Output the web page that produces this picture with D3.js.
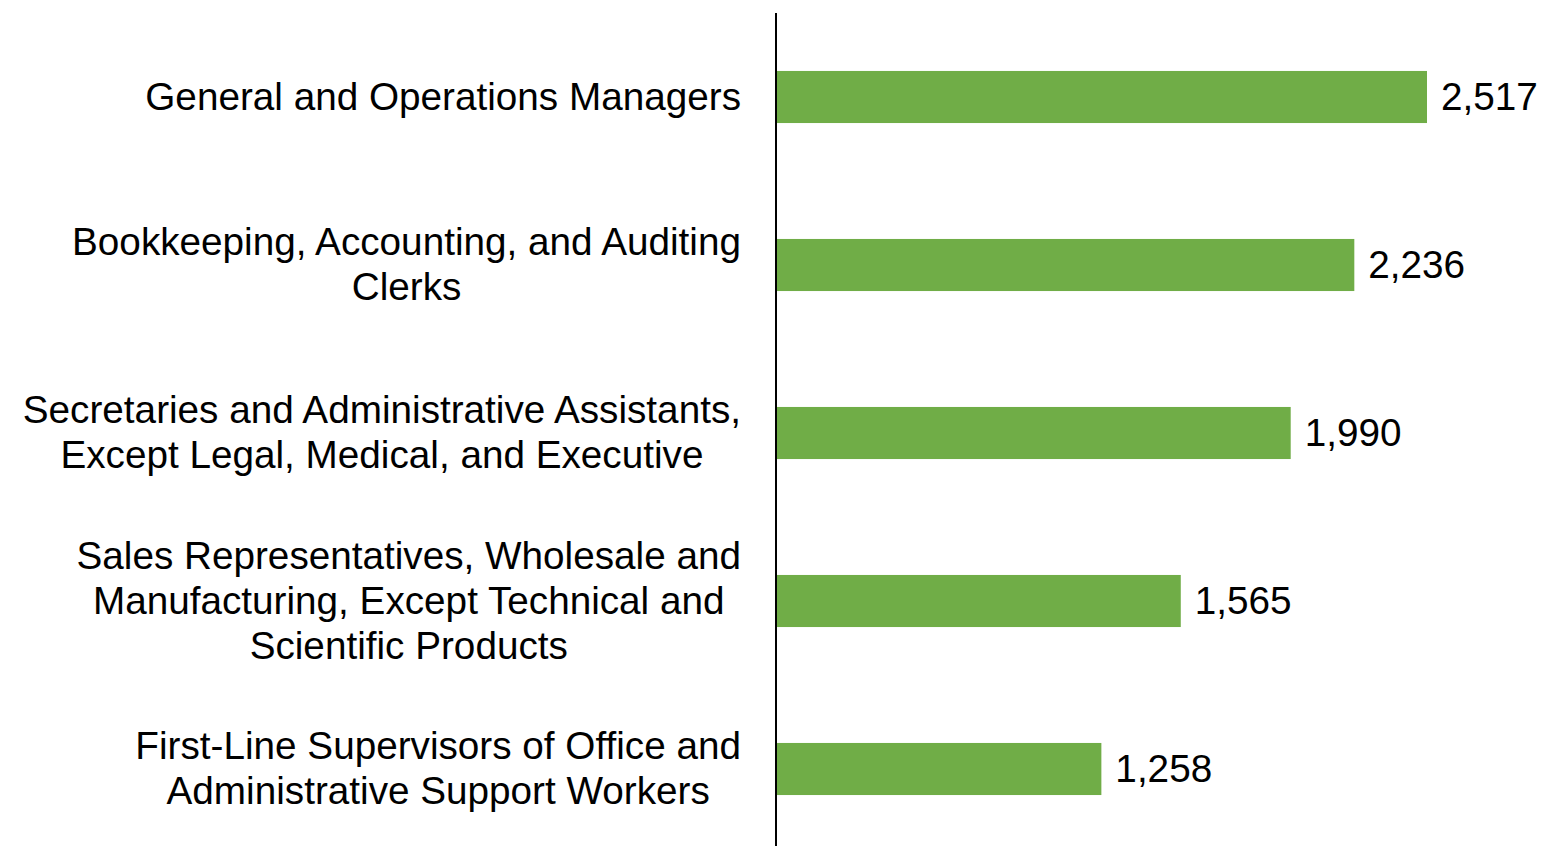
<!DOCTYPE html>
<meta charset="utf-8">
<title>top occupations bar chart</title>
<style>
body { margin: 0; background: #fff; }
text { font-family: "Liberation Sans", Arial, sans-serif; fill: #000; }
</style>
<svg width="1545" height="846"></svg>
<script src="https://d3js.org/d3.v7.min.js"></script>
<script>
// occupation labels, one array entry per line of the label
var categories = [
  ["General and Operations Managers"],
  ["Bookkeeping, Accounting, and Auditing", "Clerks"],
  ["Secretaries and Administrative Assistants,", "Except Legal, Medical, and Executive"],
  ["Sales Representatives, Wholesale and", "Manufacturing, Except Technical and", "Scientific Products"],
  ["First-Line Supervisors of Office and", "Administrative Support Workers"]
];
var values = [2517, 2236, 1990, 1565, 1258];

var svg = d3.select("svg"),
    axisX = 776,
    fontSize = 38.7,
    lineH = 45;

var names = categories.map(function(d) { return d.join(" "); });

var x = d3.scaleLinear()
    .domain([0, 2517])
    .range([axisX, 1427]);

var y = d3.scaleBand()
    .domain(names)
    .range([13, 853])
    .paddingInner(0.69)
    .paddingOuter(0.345);

var rows = svg.append("g")
  .selectAll("g")
  .data(values)
  .enter().append("g");

rows.append("rect")
    .attr("x", x(0))
    .attr("y", function(d, i) { return y(names[i]); })
    .attr("width", function(d) { return x(d) - x(0); })
    .attr("height", y.bandwidth())
    .attr("fill", "#70AD47");

rows.append("text")
    .attr("x", function(d) { return x(d) + 14; })
    .attr("y", function(d, i) { return y(names[i]) + y.bandwidth() / 2; })
    .attr("dy", "0.33em")
    .style("font-size", fontSize + "px")
    .text(function(d) { return d3.format(",")(d); });

// category labels: block right-aligned at 741, lines centred inside the block
var labels = svg.append("g")
  .selectAll("text")
  .data(categories)
  .enter().append("text")
    .style("font-size", fontSize + "px")
    .attr("text-anchor", "middle");

labels.each(function(lines, i) {
  var t = d3.select(this);
  var cy = y(names[i]) + y.bandwidth() / 2;
  var top = cy - (lines.length - 1) * lineH / 2;
  lines.forEach(function(l, j) {
    t.append("tspan")
      .attr("x", 0)
      .attr("y", top + j * lineH)
      .attr("dy", "0.33em")
      .text(l);
  });
  var w = this.getBBox().width;
  t.selectAll("tspan").attr("x", 741 - w / 2);
});

svg.append("line")
    .attr("x1", axisX).attr("x2", axisX)
    .attr("y1", 13).attr("y2", 846)
    .attr("stroke", "#000")
    .attr("stroke-width", 2);
</script>
